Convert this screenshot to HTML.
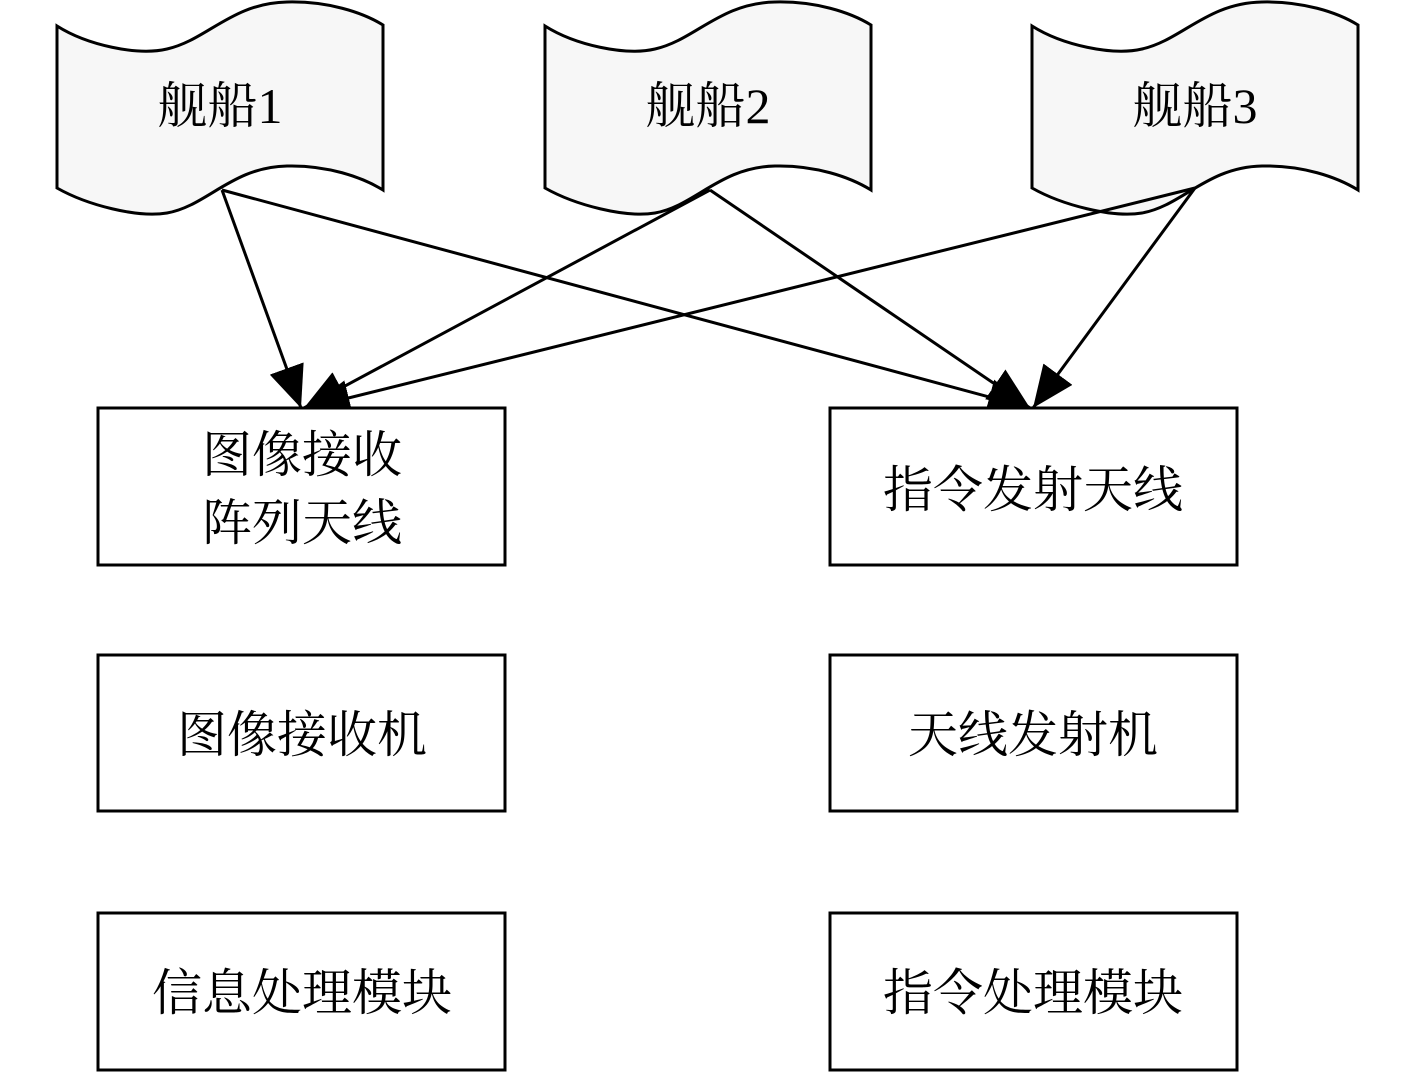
<!DOCTYPE html>
<html><head><meta charset="utf-8"><style>
html,body{margin:0;padding:0;background:#fff;}
svg{display:block}
text{font-family:"Liberation Serif","Noto Serif CJK SC",serif;font-size:50px;fill:#000;}
</style></head><body>
<svg width="1417" height="1072" viewBox="0 0 1417 1072" xmlns="http://www.w3.org/2000/svg">
<defs>
<marker id="a" markerUnits="userSpaceOnUse" markerWidth="44" markerHeight="36" refX="42" refY="18" orient="auto">
<path d="M0,0 L42,18 L0,36 z" fill="#000"/>
</marker>
<path id="flag" d="M0,26 C30,45 80,56 110,49 C150,40 175,3 230,2 C270,1 305,12 326,25 L326,190 C305,177 270,165 230,166 C175,167 150,206 110,213 C80,218 30,205 0,188 Z"/>
</defs>
<g fill="#f7f7f7" stroke="#000" stroke-width="3">
<use href="#flag" x="57"/>
<use href="#flag" x="545"/>
<use href="#flag" x="1032"/>
</g>
<text x="220" y="123" text-anchor="middle">舰船1</text>
<text x="708" y="123" text-anchor="middle">舰船2</text>
<text x="1195" y="123" text-anchor="middle">舰船3</text>
<g stroke="#000" stroke-width="3" marker-end="url(#a)">
<line x1="222" y1="190" x2="301" y2="408"/>
<line x1="222" y1="190" x2="1030" y2="408"/>
<line x1="710" y1="190" x2="304" y2="408"/>
<line x1="710" y1="190" x2="1030" y2="408"/>
<line x1="1195" y1="188" x2="308" y2="408"/>
<line x1="1195" y1="188" x2="1033" y2="408"/>
</g>
<g fill="#fff" stroke="#000" stroke-width="3">
<rect x="98" y="408" width="407" height="157"/>
<rect x="830" y="408" width="407" height="157"/>
<rect x="98" y="655" width="407" height="156"/>
<rect x="830" y="655" width="407" height="156"/>
<rect x="98" y="913" width="407" height="157"/>
<rect x="830" y="913" width="407" height="157"/>
</g>
<text x="302" y="472" text-anchor="middle">图像接收</text>
<text x="302" y="540" text-anchor="middle">阵列天线</text>
<text x="1033" y="507" text-anchor="middle">指令发射天线</text>
<text x="302" y="752" text-anchor="middle">图像接收机</text>
<text x="1033" y="752" text-anchor="middle">天线发射机</text>
<text x="302" y="1010" text-anchor="middle">信息处理模块</text>
<text x="1033" y="1010" text-anchor="middle">指令处理模块</text>
</svg>
</body></html>
